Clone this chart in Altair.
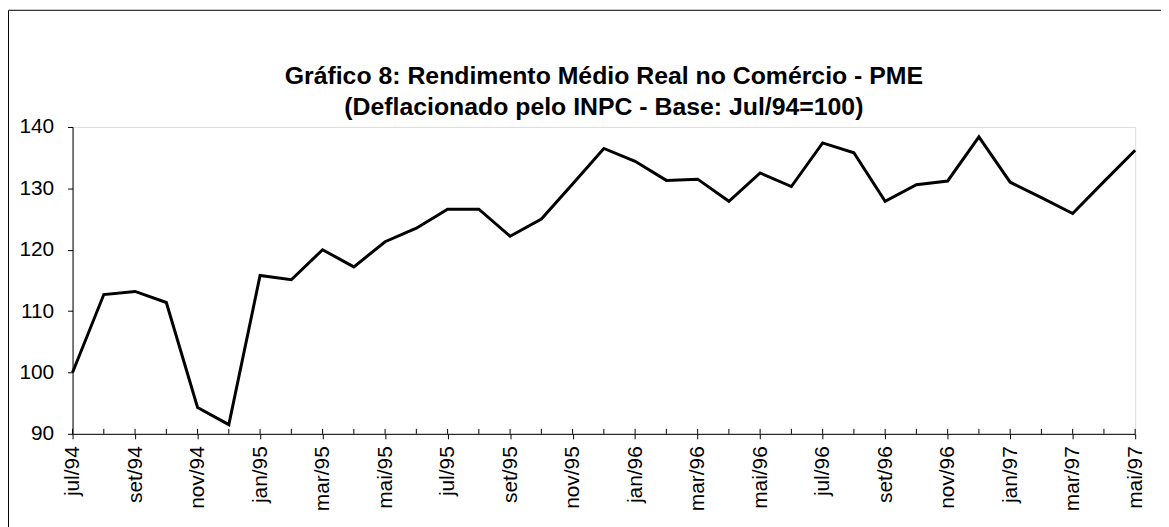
import altair as alt
import pandas as pd

months = ["jul/94", "ago/94", "set/94", "out/94", "nov/94", "dez/94",
          "jan/95", "fev/95", "mar/95", "abr/95", "mai/95", "jun/95",
          "jul/95", "ago/95", "set/95", "out/95", "nov/95", "dez/95",
          "jan/96", "fev/96", "mar/96", "abr/96", "mai/96", "jun/96",
          "jul/96", "ago/96", "set/96", "out/96", "nov/96", "dez/96",
          "jan/97", "fev/97", "mar/97", "abr/97", "mai/97"]
values = [100.0, 112.7, 113.2, 111.4, 94.3, 91.5,
          115.8, 115.1, 120.0, 117.2, 121.3, 123.5,
          126.6, 126.6, 122.2, 125.0, 130.7, 136.5,
          134.4, 131.3, 131.5, 127.9, 132.5, 130.3,
          137.4, 135.8, 127.9, 130.6, 131.2, 138.4,
          131.0, 128.5, 125.9, 131.1, 136.2]
tick_labels = [m if i % 2 == 0 else "" for i, m in enumerate(months)]
title_lines = ["Gráfico 8: Rendimento Médio Real no Comércio - PME",
               "(Deflacionado pelo INPC - Base: Jul/94=100)"]

df = pd.DataFrame({"idx": list(range(len(months))), "mes": months, "valor": values})

W, H = 1070, 309
FONT = "Liberation Sans"

label_expr = "[" + ",".join("'" + t + "'" for t in tick_labels) + "][datum.value]"

x_enc = alt.X("idx:Q",
              scale=alt.Scale(domain=[0, len(months) - 1], nice=False, zero=False),
              axis=alt.Axis(values=list(range(len(months))), labelExpr=label_expr,
                            labelAngle=-90, labelAlign="right", labelBaseline="middle",
                            labelFontSize=21, labelFont=FONT, labelColor="black",
                            labelPadding=7, tickSize=5, tickColor="black",
                            domainColor="black", grid=False, title=None,
                            labelOverlap=False, labelFlush=False))
y_enc = alt.Y("valor:Q",
              scale=alt.Scale(domain=[90, 140], nice=False, zero=False),
              axis=alt.Axis(values=[90, 100, 110, 120, 130, 140],
                            labelFontSize=21, labelFont=FONT, labelColor="black",
                            labelPadding=14, tickSize=5, tickColor="black",
                            domainColor="black", grid=False, title=None))

base = alt.Chart(df)

line = base.mark_line(color="black", strokeWidth=3, strokeJoin="miter").encode(
    x=x_enc, y=y_enc)

inner_ticks = base.mark_rule(color="black", strokeWidth=1).encode(
    x=alt.X("idx:Q"), y=alt.value(H - 5), y2=alt.value(H))

frame = alt.Chart(pd.DataFrame({"a": [0]})).mark_rect(
    fill=None, fillOpacity=0, stroke="black", strokeWidth=1).encode(
    x=alt.value(-64.5), y=alt.value(-117.5), x2=alt.value(W + 200), y2=alt.value(H + 200))

title_df = pd.DataFrame({"t": title_lines, "row": [0, 1]})
title1 = alt.Chart(title_df.iloc[[0]]).mark_text(
    font=FONT, fontSize=25, fontWeight="bold", color="black",
    align="center", baseline="middle").encode(
    text="t:N", x=alt.value(W / 2), y=alt.value(-51))
title2 = alt.Chart(title_df.iloc[[1]]).mark_text(
    font=FONT, fontSize=25, fontWeight="bold", color="black",
    align="center", baseline="middle").encode(
    text="t:N", x=alt.value(W / 2), y=alt.value(-20))

chart = alt.layer(frame, title1, title2, line, inner_ticks).properties(
    width=W, height=H,
    autosize=alt.AutoSizeParams(type="none"),
    padding={"left": 65, "top": 118, "right": 26, "bottom": 92},
).configure_view(stroke="#666666", strokeWidth=1).configure(background="white")

chart.save("out.html", embed_options={"renderer": "svg", "actions": False})
